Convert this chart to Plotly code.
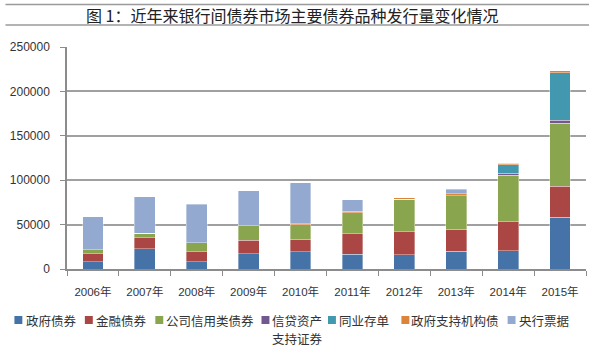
import plotly.graph_objects as go

years = ["2006年", "2007年", "2008年", "2009年", "2010年", "2011年", "2012年", "2013年", "2014年", "2015年"]

gov_bonds = [8200, 22600, 8200, 17300, 19200, 16600, 16100, 20000, 20600, 58200]
fin_bonds = [9100, 12400, 11300, 15100, 14300, 23200, 26000, 24800, 32800, 35000]
corp_bonds = [4500, 5300, 10200, 16100, 16500, 23500, 36500, 37900, 52200, 70800]
abs_sec = [0, 0, 0, 0, 0, 0, 0, 0, 2300, 3700]
ncd = [0, 0, 0, 0, 0, 0, 0, 0, 9500, 53500]
agency = [0, 0, 0, 0, 1000, 1500, 1500, 2300, 1800, 2300]
cb_bills = [36900, 41300, 43300, 39900, 46400, 13400, 0, 4900, 0, 0]

series_names = ["政府债券", "金融债券", "公司信用类债券", "信贷资产支持证券", "同业存单", "政府支持机构债", "央行票据"]
legend_lines = [["政府债券"], ["金融债券"], ["公司信用类债券"], ["信贷资产", "支持证券"],
                ["同业存单"], ["政府支持机构债"], ["央行票据"]]
series_values = [gov_bonds, fin_bonds, corp_bonds, abs_sec, ncd, agency, cb_bills]
colors = ["#4572A7", "#AA4643", "#89A54E", "#71588F", "#4198AF", "#DB843D", "#93A9CF"]

W, H = 596, 348
L, R, T, B = 63, 10, 47, 79
pw = W - L - R
ph = H - T - B

fig = go.Figure()
for name, vals, c in zip(series_names, series_values, colors):
    fig.add_trace(go.Bar(
        x=years, y=vals, name=name,
        marker=dict(color=c, line=dict(color="rgba(255,255,255,0.45)", width=0.8)),
        showlegend=False,
    ))

def px_x(p):
    return (p - L) / pw

def px_y(p):
    return (H - B - p) / ph

shapes = []
annotations = []

# title lines
for yy in (4.5, 25):
    shapes.append(dict(type="line", xref="paper", yref="paper",
                       x0=px_x(1), x1=px_x(589), y0=px_y(yy), y1=px_y(yy),
                       line=dict(color="#9A9A9A", width=1.6)))
annotations.append(dict(text="图 1：近年来银行间债券市场主要债券品种发行量变化情况",
                        xref="paper", yref="paper", x=px_x(290), y=px_y(15),
                        xanchor="center", yanchor="middle", showarrow=False,
                        font=dict(family="Noto Sans CJK SC", size=16, color="#222222")))

# manual legend
sq_centers = [14, 85, 156, 263, 330, 404, 511]
text_starts = [21, 91, 162, 269, 336, 409, 517]
leg_y = 320
line_gap = 18
for i, (lines, c) in enumerate(zip(legend_lines, colors)):
    cx = sq_centers[i]
    shapes.append(dict(type="rect", xref="paper", yref="paper",
                       x0=px_x(cx - 4), x1=px_x(cx + 4),
                       y0=px_y(leg_y + 4), y1=px_y(leg_y - 4),
                       fillcolor=c, line=dict(width=0)))
    for k, txt in enumerate(lines):
        annotations.append(dict(text=txt, xref="paper", yref="paper",
                                x=px_x(text_starts[i]), y=px_y(leg_y + k * line_gap),
                                xanchor="left", yanchor="middle", align="left",
                                showarrow=False, borderpad=0,
                                font=dict(family="Noto Sans CJK SC", size=12.5, color="#333333")))

fig.update_layout(
    width=W, height=H,
    margin=dict(l=L, r=R, t=T, b=B, pad=0),
    paper_bgcolor="white", plot_bgcolor="white",
    barmode="stack", bargap=0.6,
    shapes=shapes, annotations=annotations,
    font=dict(family="Liberation Sans, Arial, Noto Sans CJK SC", color="#333333"),
)
fig.update_xaxes(
    type="category", tickson="boundaries", ticks="outside", ticklen=5,
    tickcolor="#8C8C8C", showline=True, linecolor="#8C8C8C", linewidth=1.5,
    showgrid=False, tickfont=dict(size=11.5, family="Liberation Sans, Noto Sans CJK SC", color="#333333"),
    ticklabelstandoff=11,
)
fig.update_yaxes(
    range=[0, 250000], tickvals=[0, 50000, 100000, 150000, 200000, 250000],
    ticktext=["0", "50000", "100000", "150000", "200000", "250000"],
    ticks="outside", ticklen=5, tickcolor="#8C8C8C",
    showline=True, linecolor="#8C8C8C", linewidth=1.5,
    showgrid=True, gridcolor="#A0A0A0", gridwidth=1.5, zeroline=False,
    tickfont=dict(size=12, family="Liberation Sans, Arial", color="#333333"),
    ticklabelstandoff=8,
)

fig.write_html("out.html")
